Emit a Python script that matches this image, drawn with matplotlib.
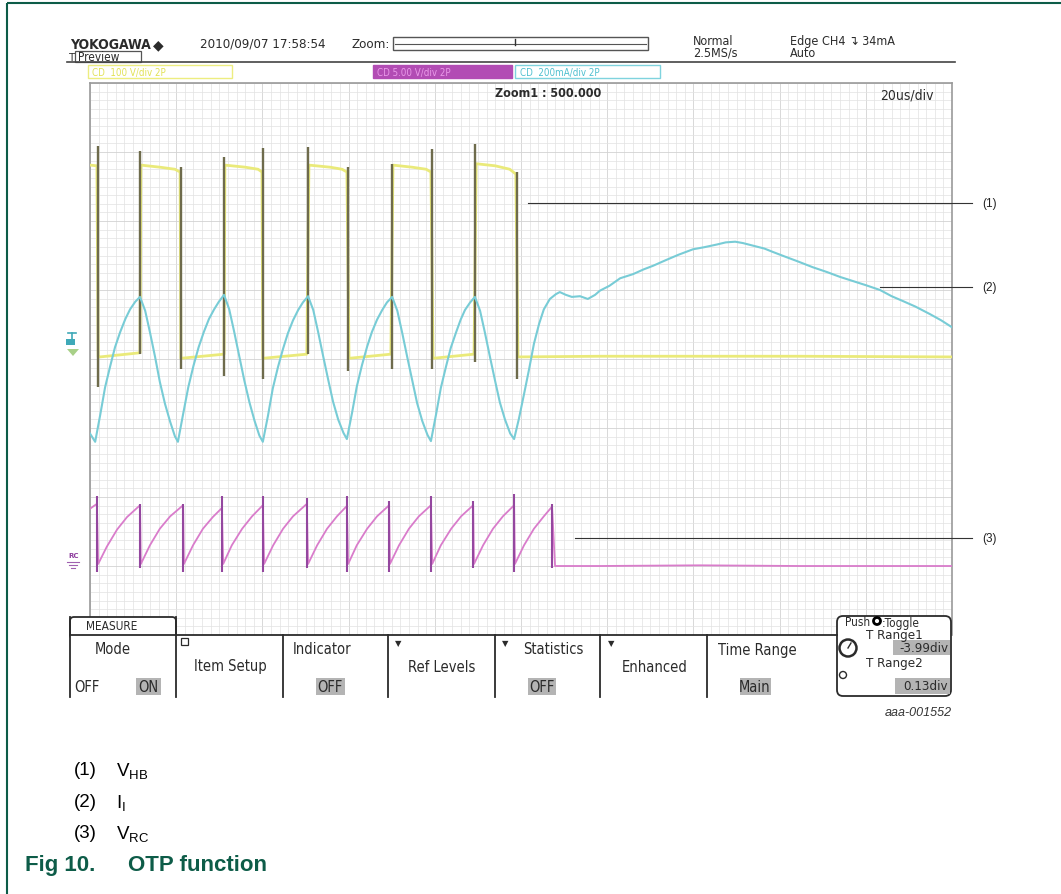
import matplotlib
matplotlib.use("Agg")
import matplotlib.pyplot as plt
from matplotlib.patches import Rectangle, FancyBboxPatch, Circle, Polygon

plt.rcParams['mathtext.fontset'] = 'custom'
plt.rcParams['mathtext.rm'] = 'Liberation Sans'
plt.rcParams['mathtext.it'] = 'Liberation Sans:italic'

# ---------------- data (time in us, amplitude in screen divisions) ----------------
# (1) V_HB half-bridge voltage (CH1, 100 V/div)
vhb_t = [0.0, 1.6, 1.9, 2.3, 11.6, 11.8, 16.2, 19.7, 20.9, 21.1, 31.1, 31.3, 36.0, 39.0,
         39.9, 40.1, 50.3, 50.8, 55.7, 58.5, 59.6, 60.1, 69.8, 70.3, 74.7, 78.0, 79.1,
         79.6, 89.1, 89.6, 94.0, 97.4, 98.8, 99.3, 118.3, 141.5, 164.7, 200.0]
vhb_v = [2.81, 2.80, 0.03, 0.03, 0.09, 2.81, 2.78, 2.75, 2.71, 0.01, 0.07, 2.81, 2.78, 2.75,
         2.71, 0.01, 0.07, 2.81, 2.78, 2.75, 2.71, 0.01, 0.07, 2.81, 2.78, 2.75, 2.71,
         0.01, 0.07, 2.83, 2.80, 2.75, 2.68, 0.03, 0.04, 0.04, 0.04, 0.03]
# switching edges of V_HB (with ringing extremes)
vhb_edge_t = [1.8, 11.6, 21.1, 31.1, 40.1, 50.6, 59.9, 70.1, 79.3, 89.3, 99.1]
vhb_edge_top = [3.09, 3.01, 2.78, 2.93, 3.06, 3.07, 2.78, 2.83, 3.04, 3.12, 2.71]
vhb_edge_bot = [-0.41, 0.07, -0.14, -0.25, -0.29, 0.07, -0.17, -0.14, -0.14, -0.04, -0.29]

# (2) I_I current (CH4, 200 mA/div)
ii_t = [0.0, 0.7,
        1.2, 2.4, 3.5, 4.7, 5.8, 7.0, 8.2, 9.3, 10.5, 11.6,
        12.8, 13.9, 15.1, 16.2, 17.4, 18.6, 19.7, 20.4,
        21.6, 22.8, 24.0, 25.2, 26.4, 27.6, 28.8, 29.9, 31.1,
        32.3, 33.4, 34.6, 35.8, 37.0, 38.2, 39.3, 40.1,
        41.3, 42.4, 43.6, 44.8, 45.9, 47.1, 48.3, 49.4, 50.6,
        51.8, 52.9, 54.1, 55.3, 56.4, 57.6, 58.8, 59.6,
        60.8, 61.9, 63.1, 64.3, 65.4, 66.6, 67.8, 68.9, 70.1,
        71.3, 72.4, 73.6, 74.8, 75.9, 77.1, 78.3, 79.1,
        80.3, 81.4, 82.6, 83.7, 84.9, 86.0, 87.0, 88.2, 89.3,
        90.5, 91.6, 92.8, 94.0, 95.1, 96.3, 97.5, 98.4,
        99.5, 100.7, 101.9, 103.0, 104.2, 105.3, 106.7, 108.1, 109.0, 110.4, 111.8,
        113.7, 115.5, 117.2, 118.3, 120.5, 123.0, 126.0, 128.5, 130.6, 133.5, 136.5,
        139.9, 142.5, 145.5, 147.5, 149.7, 151.5, 154.0, 156.5, 158.5, 161.0, 164.0,
        167.7, 171.0, 174.0, 177.0, 180.0, 183.3, 186.0, 188.6, 191.5, 194.9, 197.5, 200.0]
ii_v = [-1.08, -1.15,
        -1.20, -0.80, -0.41, -0.10, 0.17, 0.39, 0.58, 0.72, 0.83, 0.90,
        0.70, 0.39, 0.03, -0.33, -0.65, -0.91, -1.12, -1.20,
        -0.80, -0.41, -0.10, 0.17, 0.39, 0.58, 0.72, 0.83, 0.93,
        0.72, 0.41, 0.05, -0.31, -0.63, -0.90, -1.11, -1.20,
        -0.82, -0.43, -0.12, 0.15, 0.37, 0.56, 0.71, 0.82, 0.91,
        0.71, 0.40, 0.04, -0.31, -0.62, -0.88, -1.07, -1.16,
        -0.78, -0.40, -0.09, 0.18, 0.39, 0.57, 0.71, 0.82, 0.90,
        0.70, 0.39, 0.03, -0.32, -0.64, -0.90, -1.10, -1.19,
        -0.80, -0.42, -0.11, 0.16, 0.38, 0.57, 0.71, 0.82, 0.90,
        0.70, 0.39, 0.03, -0.32, -0.63, -0.88, -1.08, -1.16,
        -0.87, -0.51, -0.14, 0.22, 0.51, 0.72, 0.87, 0.94, 0.97, 0.93, 0.90,
        0.91, 0.87, 0.93, 0.99, 1.06, 1.17, 1.23, 1.30, 1.35, 1.43, 1.51,
        1.59, 1.62, 1.66, 1.69, 1.70, 1.68, 1.64, 1.60, 1.55, 1.49, 1.42,
        1.33, 1.26, 1.19, 1.13, 1.07, 1.00, 0.91, 0.84, 0.76, 0.65, 0.56, 0.46]

# (3) V_RC oscillator ramp (5.00 V/div)
vrc_t = [0.0, 0.9, 1.6,
         1.9, 3.9, 6.3, 8.6, 11.6,
         11.8, 13.9, 16.2, 18.6, 21.6,
         21.8, 23.9, 26.2, 28.5, 30.6,
         30.9, 32.9, 35.3, 37.6, 40.1,
         40.4, 42.5, 44.8, 47.1, 50.3,
         50.6, 52.7, 55.0, 57.3, 59.6,
         59.9, 61.9, 64.3, 66.6, 69.4,
         69.6, 71.7, 74.0, 76.3, 79.1,
         79.4, 81.4, 83.8, 86.1, 88.9,
         89.1, 91.2, 93.5, 95.8, 98.4,
         98.6, 100.7, 103.0, 105.3, 107.2,
         107.9, 118.3, 141.5, 164.7, 200.0]
vrc_v = [-2.17, -2.13, -2.10,
         -2.97, -2.72, -2.47, -2.29, -2.12,
         -2.97, -2.70, -2.46, -2.28, -2.12,
         -2.97, -2.70, -2.46, -2.29, -2.16,
         -2.97, -2.70, -2.46, -2.28, -2.12,
         -2.97, -2.70, -2.46, -2.28, -2.10,
         -2.97, -2.70, -2.46, -2.28, -2.13,
         -2.97, -2.70, -2.46, -2.28, -2.12,
         -2.97, -2.70, -2.46, -2.28, -2.12,
         -2.97, -2.70, -2.46, -2.28, -2.12,
         -2.97, -2.70, -2.46, -2.28, -2.12,
         -2.97, -2.70, -2.46, -2.28, -2.14,
         -3.00, -3.00, -2.99, -3.00, -3.00]
vrc_spike_t = [1.6, 11.6, 21.6, 30.6, 40.1, 50.3, 59.6, 69.4, 79.1, 88.9, 98.4, 107.2]
vrc_spike_top = [-1.99, -2.10, -2.10, -1.99, -1.99, -2.01, -1.99, -2.06, -1.99, -2.06, -1.96, -2.10]
vrc_spike_bot = [-3.09, -3.03, -3.09, -3.09, -3.09, -3.03, -3.09, -3.09, -3.09, -3.03, -3.09, -3.03]

legend_ids = ["(1)", "(2)", "(3)"]
legend_names = [r"V$_{\mathregular{HB}}$", r"I$_{\mathregular{I}}$", r"V$_{\mathregular{RC}}$"]
menu_titles = ["Mode", "Item Setup", "Indicator", "Ref Levels", "Statistics", "Enhanced", "Time Range"]

# ---------------- figure ----------------
W, H = 1061, 895
fig = plt.figure(figsize=(W / 100, H / 100), dpi=100)
fig.patch.set_facecolor("white")

# scope screen axes: 10 div x 20 us, 8 div vertical
L, R, T, B = 90, 952, 84, 636
ax = fig.add_axes([L / W, 1 - B / H, (R - L) / W, (B - T) / H], zorder=1)
ax.set_xlim(0, 200)
ax.set_ylim(-4, 4)
ax.set_facecolor("white")
ax.set_xticks([i * 20 for i in range(11)])
ax.set_xticks([i * 2 for i in range(101)], minor=True)
ax.set_yticks([-4 + i for i in range(9)])
ax.set_yticks([-4 + i * 0.125 for i in range(65)], minor=True)
ax.grid(which="minor", color="#E2E2E2", lw=0.5)
ax.grid(which="major", color="#D2D2D2", lw=0.6)
ax.tick_params(which="both", length=0, labelbottom=False, labelleft=False)
for s in ax.spines.values():
    s.set_color("#9A9A9A")
    s.set_linewidth(1.2)
ax.spines["bottom"].set_visible(False)
ax.set_axisbelow(True)

ax.plot(vrc_t, vrc_v, color="#D97CCB", lw=1.3, zorder=3)
ax.vlines(vrc_spike_t, vrc_spike_bot, vrc_spike_top, color="#94479F", lw=1.5, zorder=4)
ax.plot(vhb_t, vhb_v, color="#EAEA7A", lw=2.0, zorder=3)
ax.vlines(vhb_edge_t, vhb_edge_bot, vhb_edge_top, color="#6E6B4C", lw=1.7, zorder=4)
ax.plot(ii_t, ii_v, color="#78CCD6", lw=1.5, zorder=5)

# ---------------- overlay in pixel coordinates ----------------
ov = fig.add_axes([0, 0, 1, 1], zorder=2)
ov.set_xlim(0, W)
ov.set_ylim(H, 0)
ov.axis("off")
ov.patch.set_alpha(0)

green = "#0D5C48"
ov.plot([7, W], [4, 4], color=green, lw=1.5, solid_capstyle="butt")
ov.plot([7, 7], [4, H], color=green, lw=1.5, solid_capstyle="butt")

dk = "#2B2B2B"
cf = dict(family="DejaVu Sans", fontstretch="condensed", color=dk)

# header
ov.text(70, 45, "YOKOGAWA", fontsize=10, weight="bold", va="center", **cf)
ov.text(153, 45, "\u25C6", fontsize=10, va="center", color=dk)
ov.text(200, 44, "2010/09/07 17:58:54", fontsize=9.5, va="center", **cf)
ov.text(352, 44, "Zoom:", fontsize=9.5, va="center", **cf)
ov.add_patch(Rectangle((393, 38), 255, 13, fc="white", ec="#555555", lw=1.0))
ov.plot([395, 646], [44.5, 44.5], color="#555555", lw=0.8)
ov.plot([515, 515], [40, 46], color="#333333", lw=1.0)
ov.text(693, 41, "Normal", fontsize=9, va="center", **cf)
ov.text(693, 53, "2.5MS/s", fontsize=9, va="center", **cf)
ov.text(790, 41, "Edge CH4 \u21B4 34mA", fontsize=9, va="center", **cf)
ov.text(790, 53, "Auto", fontsize=9, va="center", **cf)
ov.plot([67, 955], [63, 63], color="#444444", lw=1.2)
ov.text(69, 58, "T", fontsize=8, va="center", **cf)
ov.add_patch(Rectangle((75, 52), 66, 11, fc="white", ec="#555555", lw=0.9))
ov.text(78, 57.5, "Preview", fontsize=8.5, va="center", **cf)

# channel boxes
ov.add_patch(Rectangle((88, 66), 144, 13, fc="white", ec="#EDED80", lw=1.0))
ov.text(92, 72.5, "CD  100 V/div 2P", fontsize=7, va="center", color="#E2E255",
        family="DejaVu Sans", fontstretch="condensed")
ov.add_patch(Rectangle((373, 66), 139, 13, fc="#B24CB4", ec="#B24CB4", lw=1.0))
ov.text(377, 72.5, "CD 5.00 V/div 2P", fontsize=7, va="center", color="#E99AE9",
        family="DejaVu Sans", fontstretch="condensed")
ov.add_patch(Rectangle((515, 66), 145, 13, fc="white", ec="#7FD3DE", lw=1.0))
ov.text(520, 72.5, "CD  200mA/div 2P", fontsize=7, va="center", color="#4FC0D0",
        family="DejaVu Sans", fontstretch="condensed")

ov.text(495, 93, "Zoom1 : 500.000", fontsize=9, weight="bold", va="center", **cf)
ov.text(880, 95, "20us/div", fontsize=10, va="center", **cf)

# channel markers at left
ov.add_patch(Rectangle((66, 340), 9, 6, fc="#3FA9B8", ec="none"))
ov.plot([72, 72], [334, 343], color="#3FA9B8", lw=1.2)
ov.plot([68, 76], [334, 334], color="#3FA9B8", lw=1.2)
ov.add_patch(Polygon([[67, 350], [79, 350], [73, 357]], closed=True, fc="#A8D088", ec="none"))
ov.text(68, 556, "RC", fontsize=5, weight="bold", color="#8E3D9E", va="center")
ov.plot([67, 79], [563, 563], color="#A060B0", lw=0.8)
ov.plot([69, 77], [566, 566], color="#A060B0", lw=0.8)
ov.plot([71, 75], [569, 569], color="#A060B0", lw=0.8)

# annotation lines
ann_y = [204, 288, 539]
ann_x0 = [528, 880, 575]
for i in range(3):
    ov.plot([ann_x0[i], 972], [ann_y[i], ann_y[i]], color="#333333", lw=0.8)
    ov.text(982, ann_y[i], legend_ids[i], fontsize=8.5, va="center", family="Liberation Sans", color="#222222")

# ---------------- bottom menu ----------------
ov.add_patch(FancyBboxPatch((70, 618), 106, 22, boxstyle="round,pad=0,rounding_size=4",
                            fc="white", ec=dk, lw=1.3, zorder=3))
ov.add_patch(Rectangle((70, 636), 767, 62, fc="white", ec="none", zorder=3))
ov.plot([70, 837], [636, 636], color=dk, lw=1.3, zorder=4)
for xd in [70, 176, 283, 388, 495, 600, 707]:
    ov.plot([xd, xd], [618 if xd in (70, 176) else 636, 698], color=dk, lw=1.3, zorder=4)
ov.text(112, 627, "MEASURE", fontsize=8.5, ha="center", va="center", zorder=5, **cf)

mt = dict(fontsize=10.5, ha="center", va="center", zorder=5, **cf)
ov.text(113, 650, menu_titles[0], **mt)
ov.text(87, 687, "OFF", **mt)
ov.add_patch(Rectangle((136, 679), 25, 17, fc="#B4B4B4", ec="none", zorder=4))
ov.text(148, 687, "ON", **mt)
ov.add_patch(Rectangle((181, 639), 7, 7, fc="white", ec=dk, lw=0.9, zorder=4))
ov.text(230, 667, menu_titles[1], **mt)
ov.text(322, 650, menu_titles[2], **mt)
ov.add_patch(Rectangle((316, 679), 29, 17, fc="#B4B4B4", ec="none", zorder=4))
ov.text(330, 687, "OFF", **mt)
ov.text(398, 644, "\u25BC", fontsize=6, ha="center", va="center", color=dk, zorder=5)
ov.text(442, 667, menu_titles[3], **mt)
ov.text(505, 644, "\u25BC", fontsize=6, ha="center", va="center", color=dk, zorder=5)
ov.text(553, 650, menu_titles[4], **mt)
ov.add_patch(Rectangle((528, 679), 28, 17, fc="#B4B4B4", ec="none", zorder=4))
ov.text(542, 687, "OFF", **mt)
ov.text(611, 644, "\u25BC", fontsize=6, ha="center", va="center", color=dk, zorder=5)
ov.text(655, 667, menu_titles[5], **mt)
ov.text(757, 650, menu_titles[6], **mt)
ov.add_patch(Rectangle((740, 679), 31, 17, fc="#B4B4B4", ec="none", zorder=4))
ov.text(755, 687, "Main", **mt)

# right knob box
ov.add_patch(FancyBboxPatch((837, 617), 114, 80, boxstyle="round,pad=0,rounding_size=6",
                            fc="white", ec=dk, lw=1.3, zorder=3))
ov.text(845, 623, "Push", fontsize=8.5, va="center", zorder=5, **cf)
ov.add_patch(Circle((877, 622), 3.5, fc="white", ec="black", lw=2.0, zorder=5))
ov.text(882, 623, ":Toggle", fontsize=8.5, va="center", zorder=5, **cf)
ov.add_patch(Circle((848, 649), 8.5, fc="white", ec=dk, lw=1.8, zorder=5))
ov.plot([848, 851], [649, 644], color=dk, lw=1.0, zorder=6)
ov.text(866, 635, "T Range1", fontsize=9.5, va="center", zorder=5, **cf)
ov.add_patch(Rectangle((893, 641), 57, 15, fc="#B4B4B4", ec="none", zorder=4))
ov.text(948, 648, "-3.99div", fontsize=9.5, ha="right", va="center", zorder=5, **cf)
ov.add_patch(Circle((843, 676), 3.5, fc="white", ec=dk, lw=1.0, zorder=5))
ov.text(866, 664, "T Range2", fontsize=9.5, va="center", zorder=5, **cf)
ov.add_patch(Rectangle((895, 679), 55, 16, fc="#B4B4B4", ec="none", zorder=4))
ov.text(948, 687, "0.13div", fontsize=9.5, ha="right", va="center", zorder=5, **cf)

ov.text(952, 713, "aaa-001552", fontsize=9, style="italic", ha="right", va="center",
        family="Liberation Sans", color="#333333")

# ---------------- caption ----------------
cap_y = [771, 803, 834]
for i in range(3):
    ov.text(74, cap_y[i], legend_ids[i], fontsize=13.5, va="center", family="Liberation Sans", color="black")
    ov.text(116, cap_y[i], legend_names[i], fontsize=13.5, va="center", family="Liberation Sans", color="black")
ov.text(25, 866, "Fig 10.", fontsize=16, weight="bold", va="center", family="Liberation Sans", color=green)
ov.text(128, 866, "OTP function", fontsize=16, weight="bold", va="center", family="Liberation Sans", color=green)

fig.savefig("out.png", dpi=100, facecolor="white")
